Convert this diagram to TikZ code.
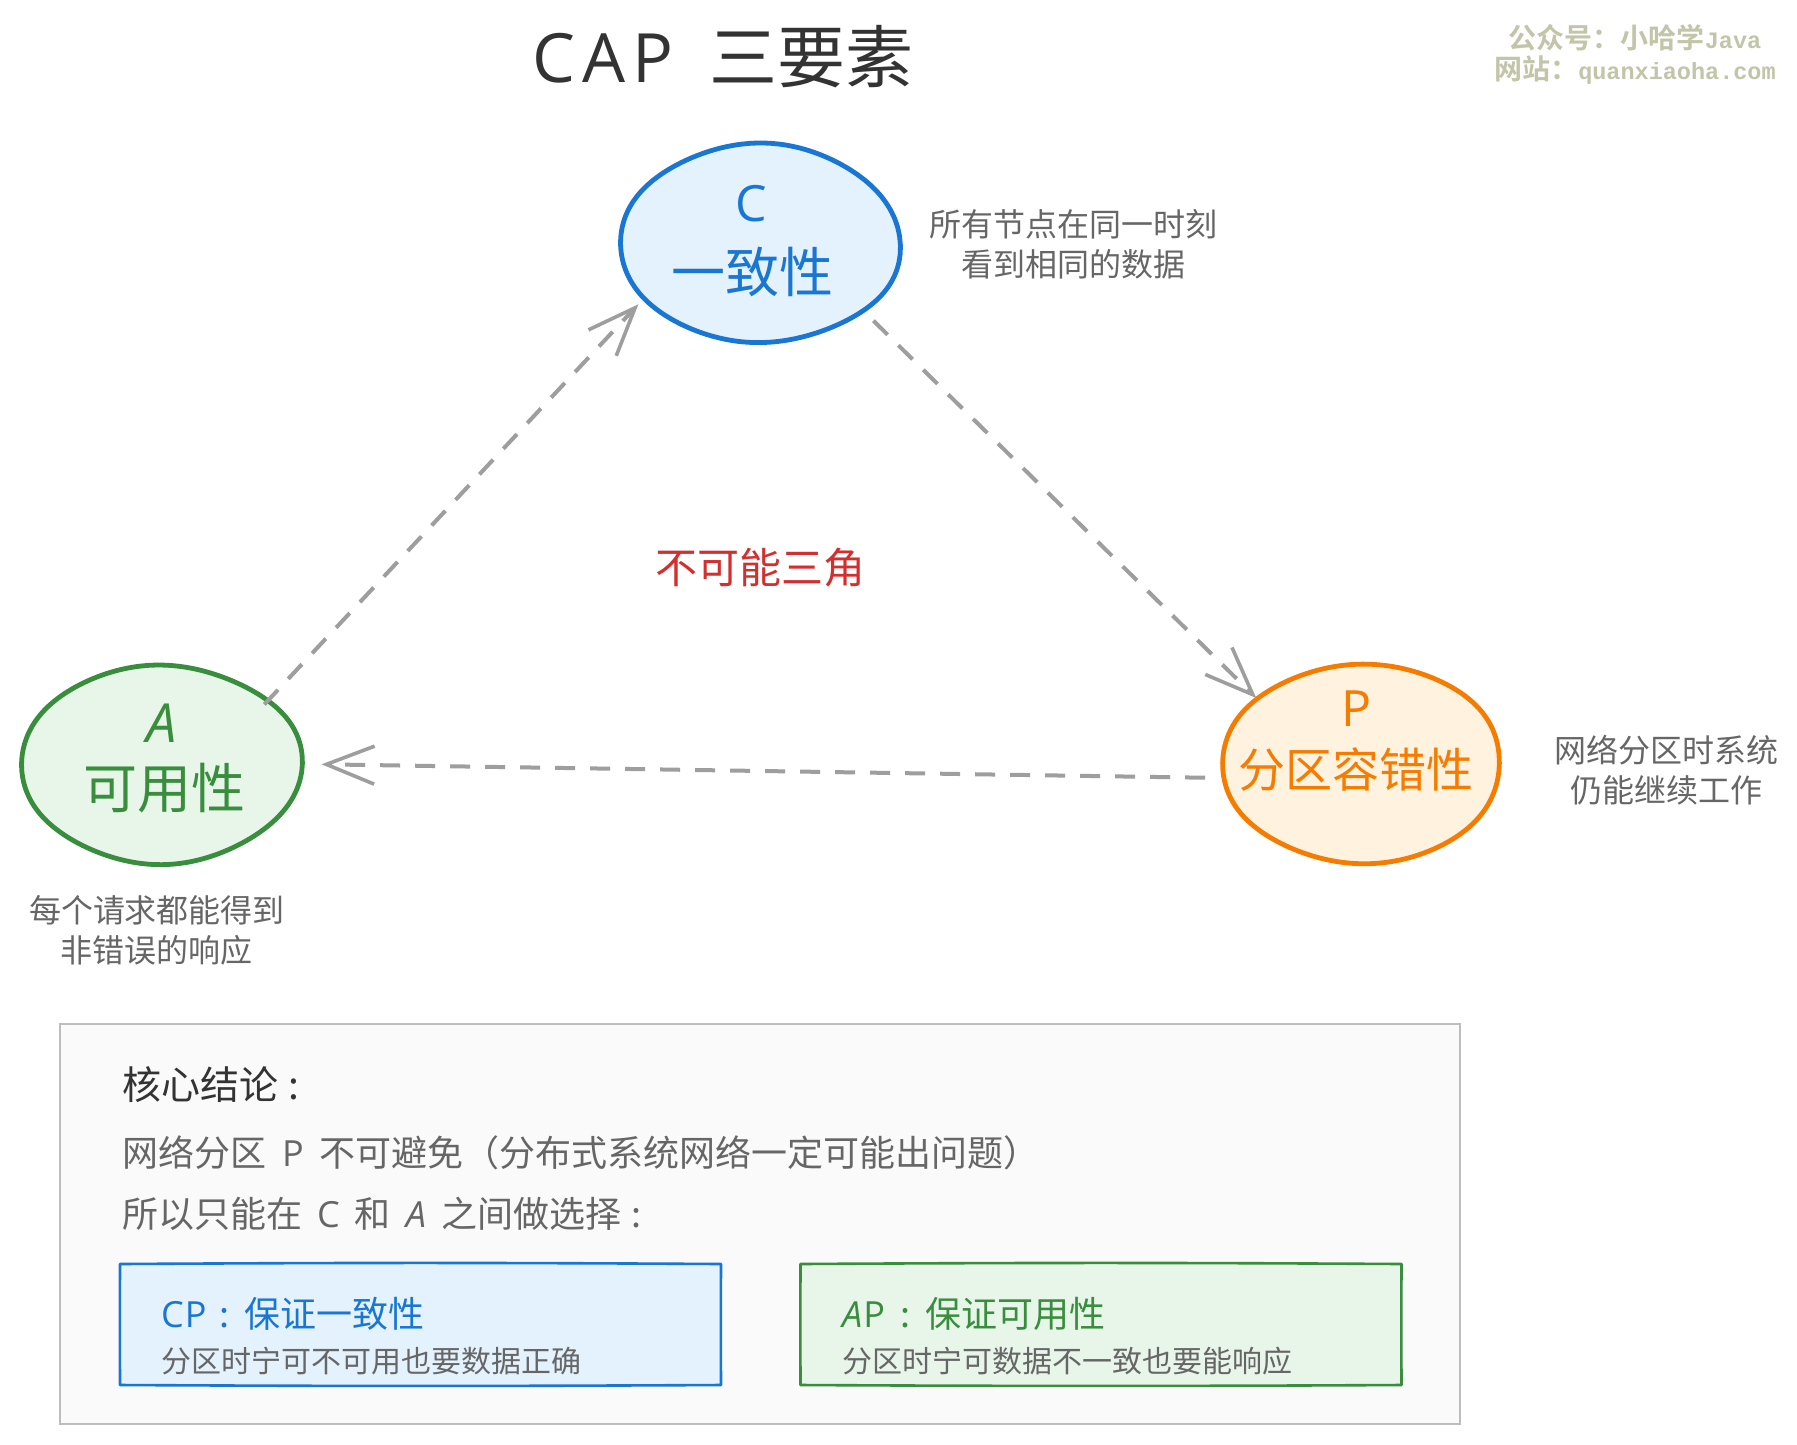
\documentclass[tikz,border=0pt]{standalone}
\usepackage{fontspec}
\setmainfont{Noto Sans CJK SC}
\newfontfamily\latinf[ItalicFont={Open Sans Italic}]{Open Sans}
\newfontfamily\wmcjk[BoldFont={Noto Sans CJK SC Bold}]{Noto Sans CJK SC}
\newfontfamily\wmlat{Liberation Mono Bold}
\usetikzlibrary{shapes.geometric,arrows.meta}
\definecolor{cblue}{HTML}{1976D2}\definecolor{cbluef}{HTML}{E3F2FD}
\definecolor{cgreen}{HTML}{388E3C}\definecolor{cgreenf}{HTML}{E8F5E9}
\definecolor{corange}{HTML}{F57C00}\definecolor{corangef}{HTML}{FFF3E0}
\definecolor{cred}{HTML}{D32F2F}\definecolor{cgrayt}{HTML}{666666}
\definecolor{cdark}{HTML}{333333}\definecolor{cpanel}{HTML}{FAFAFA}
\definecolor{cpanelb}{HTML}{BDBDBD}\definecolor{cline}{HTML}{9E9E9E}
\definecolor{cwm}{HTML}{C2C5A8}
\newcommand{\fs}[1]{\fontsize{#1}{#1}\selectfont}
\newcommand{\La}[1]{{\latinf #1}}
\newcommand{\Li}[1]{{\latinf\itshape #1}}
% hand-drawn outline round an ellipse node: #4 shifts the wobble's phase
\newcommand{\blob}[4]{\draw[shift={(#1)},draw=#2,fill=#3,line width=4.8pt,line join=round]
  plot[domain=0:355,samples=72,smooth] ({139.5*cos(\x)+1.2*sin(3*\x+#4)},{99*sin(\x)+1.3*cos(2*\x+#4)+0.8*sin(5*\x)}) -- cycle;}
% hand-drawn outline of a box node
\newcommand{\wbox}[2]{\draw[draw=#2,line width=2.6pt,line join=round]
  (#1.north west) to[bend left=0.35] (#1.north east) to[bend right=0.25] (#1.south east)
  to[bend left=0.3] (#1.south west) to[bend left=0.2] cycle;}
\tikzset{
  bub/.style={ellipse,minimum width=279pt,minimum height=198pt,inner sep=0pt,outer sep=0pt},
  boxx/.style={rectangle,minimum width=601pt,minimum height=121pt,inner sep=0pt,outer sep=0pt},
  conn/.style={draw=cline,line width=4pt,dash pattern=on 20pt off 15pt,
     -{Straight Barb[length=48pt,width=38pt,line width=3.6pt]}},
  desc/.style={align=center,text=cgrayt,font=\fs{32},inner sep=0pt},
  ptext/.style={anchor=west,inner sep=0pt,text=cgrayt,font=\fs{36}},
}
\begin{document}
\begin{tikzpicture}[x=1pt,y=-1pt]
\useasboundingbox (0,0) rectangle (1797,1444);
\fill[white] (0,0) rectangle (1797,1444);
% title
\node[inner sep=0pt,text=cdark,font=\fs{68}] (title) at (723,57) {\La{C\hspace{7pt}A\hspace{7pt}P}\hspace{36pt}三要素};
% watermark
\node[inner sep=0pt,text=cwm,font=\wmcjk\bfseries\fs{28}] (wm1) at (1635,38) {公众号：小哈学{\wmlat\fs{23.5}Java}};
\node[inner sep=0pt,text=cwm,font=\wmcjk\bfseries\fs{28}] (wm2) at (1635,70) {网站：{\wmlat\fs{23.5}quanxiaoha.com}};
% bubbles
\node[bub] (C) at (760.5,244) {};
\node[bub] (A) at (162,764) {};
\node[bub] (P) at (1361,763.5) {};
\blob{C}{cblue}{cbluef}{20}
\blob{A}{cgreen}{cgreenf}{130}
\blob{P}{corange}{corangef}{250}
\node[inner sep=0pt,text=cblue,font=\fs{50}] (Cl) at (751,204) {\La{C}};
\node[inner sep=0pt,text=cblue,font=\fs{54}] (Ct) at (752,272) {一致性};
\node[inner sep=0pt,text=cgreen,font=\fs{54}] (Al) at (162,723) {\Li{A}};
\node[inner sep=0pt,text=cgreen,font=\fs{54}] (At) at (164,788) {可用性};
\node[inner sep=0pt,text=corange,font=\fs{50}] (Pl) at (1357,709) {\La{P}};
\node[inner sep=0pt,text=corange,font=\fs{47}] (Pt) at (1356,770) {分区容错性};
% descriptions
\node[desc] (Cd) at (1073,244) {所有节点在同一时刻\\[8pt]看到相同的数据};
\node[desc] (Ad) at (157,930) {每个请求都能得到\\[8pt]非错误的响应};
\node[desc] (Pd) at (1666,770) {网络分区时系统\\[8pt]仍能继续工作};
\node[inner sep=0pt,text=cred,font=\fs{42}] (mid) at (760,568) {不可能三角};
% connectors
\draw[conn,shorten <=-6pt,shorten >=8pt] (A.31) -- (C.205);
\draw[conn,shorten <=14pt] (C.-33) -- (P.148);
\draw[conn,shorten <=18pt,shorten >=20pt] (P.186) -- (A.0);
% panel
\node[rectangle,draw=cpanelb,fill=cpanel,line width=2pt,minimum width=1400pt,minimum height=400pt,inner sep=0pt,outer sep=0pt] (panel) at (760,1224) {};
\node[ptext,text=cdark,font=\fs{39}] (pa) at (122,1085) {核心结论\hspace{10pt}:};
\node[ptext] (pb) at (122,1153) {网络分区\hspace{16pt}\La{P}\hspace{16pt}不可避免（分布式系统网络一定可能出问题）};
\node[ptext] (pc) at (122,1214) {所以只能在\hspace{15pt}\La{C}\hspace{15pt}和\hspace{15pt}\Li{A}\hspace{15pt}之间做选择\hspace{10pt}:};
% boxes
\node[boxx,fill=cbluef] (cp) at (420.5,1324.5) {};
\node[boxx,fill=cgreenf] (ap) at (1101,1324.5) {};
\wbox{cp}{cblue}
\wbox{ap}{cgreen}
\node[ptext,text=cblue] (cpt) at (161,1314) {\La{C\hspace{1pt}P}\hspace{13pt}:\hspace{15pt}保证一致性};
\node[ptext,font=\fs{30}] (cps) at (161,1361) {分区时宁可不可用也要数据正确};
\node[ptext,text=cgreen] (apt) at (842,1314) {\Li{A}\La{\hspace{1pt}P}\hspace{15pt}:\hspace{15pt}保证可用性};
\node[ptext,font=\fs{30}] (aps) at (842,1361) {分区时宁可数据不一致也要能响应};
\end{tikzpicture}
\end{document}
